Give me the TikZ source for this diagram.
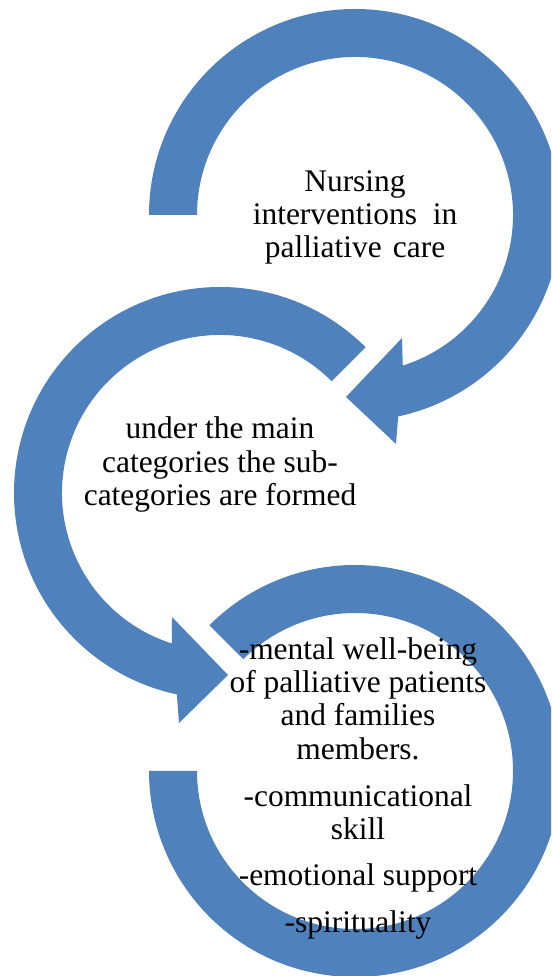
\documentclass[tikz,border=0pt]{standalone}
\usepackage{fontspec}
\setmainfont{Liberation Serif}
\usetikzlibrary{calc}
\definecolor{ringblue}{RGB}{79,129,189}
\begin{document}
\begin{tikzpicture}[x=0.02cm,y=0.02cm]
        \tikzset{ringfill/.style = {fill=ringblue, draw=none},
                 ringtext/.style = {align=center, inner sep=0pt,
                                    font=\fontsize{17.9pt}{18.8pt}\selectfont}}
        \useasboundingbox (0,0) rectangle (551,976);
        \clip (0,0) rectangle (551,976);
        \coordinate (C1) at (355,761);
        \coordinate (C2) at (220,483);
        \coordinate (C3) at (355,205);
        
        % first ring: tail on the left, head at the bottom
        \fill[ringfill] ($(C1)+(180:206)$) arc[start angle=180, end angle=-77.9, radius=206]
            -- ($(C1)+(41,-229)$) -- ($(C1)+(-9,-182)$) -- ($(C1)+(47,-123)$)
            -- ($(C1)+(-72.4:158)$) arc[start angle=-72.4, end angle=180, radius=158] -- cycle;
        
        % second ring: tail upper right, head at the bottom
        \fill[ringfill] ($(C2)+(45:206)$) arc[start angle=45, end angle=257.9, radius=206]
            -- ($(C2)+(-41,-230)$) -- ($(C2)+(8,-182)$) -- ($(C2)+(-48,-124)$)
            -- ($(C2)+(252.3:158)$) arc[start angle=252.3, end angle=45, radius=158] -- cycle;
        
        % third ring, no head
        \fill[ringfill] ($(C3)+(135:206)$) arc[start angle=135, end angle=-180, radius=206]
            -- ($(C3)+(180:158)$) arc[start angle=-180, end angle=135, radius=158] -- cycle;
        
        \node[ringtext] (N1) at (355,759) {Nursing\\interventions\hspace{0.25em} in\\palliative\hspace{0.1em} care};
        \node[ringtext] (N2) at (220,511.5) {under the main\\categories the sub-\\categories are formed};
        \node[ringtext] (N3) at (358,187.5) {-mental well-being\\of palliative patients\\and families\\members.\\[0.28cm]-communicational\\skill\\[0.26cm]-emotional support\\[0.28cm]-spirituality};
\end{tikzpicture}
\end{document}
